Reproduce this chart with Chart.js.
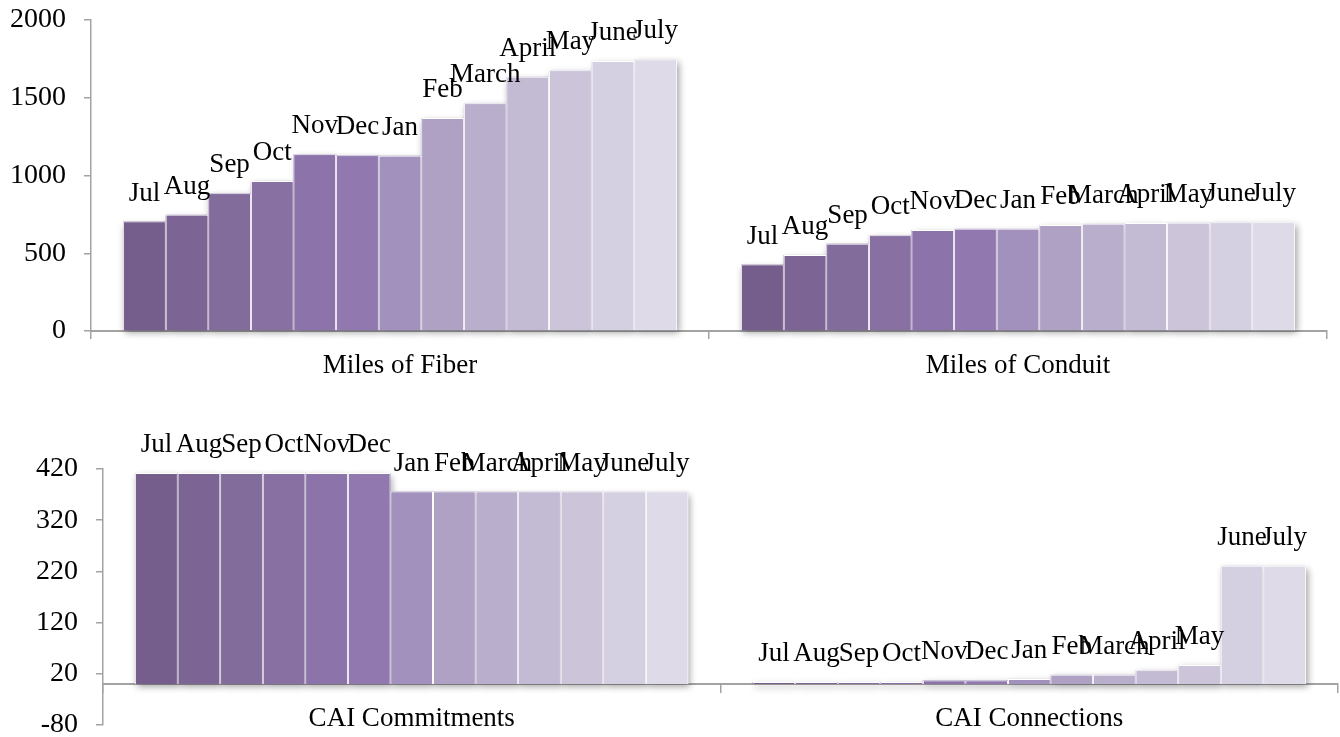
<!DOCTYPE html>
<html>
<head>
<meta charset="utf-8">
<script src="https://cdn.jsdelivr.net/npm/chart.js@4.4.0/dist/chart.umd.min.js"></script>
<style>
  html, body { margin: 0; padding: 0; background: #fff; }
  #wrap { position: relative; width: 1340px; height: 737px; overflow: hidden; }
  canvas { position: absolute; left: 0; }
  #topChart { top: 0; }
  #bottomChart { top: 380px; }
</style>
</head>
<body>
<div id="wrap">
  <canvas id="topChart" width="1340" height="380"></canvas>
  <canvas id="bottomChart" width="1340" height="357"></canvas>
</div>
<script>
// --- Data ---
const months = ['Jul', 'Aug', 'Sep', 'Oct', 'Nov', 'Dec', 'Jan', 'Feb', 'March', 'April', 'May', 'June', 'July'];
const topGroups = ['Miles of Fiber', 'Miles of Conduit'];
const bottomGroups = ['CAI Commitments', 'CAI Connections'];

const milesFiber = [704, 747, 886, 965, 1136, 1131, 1127, 1370, 1464, 1635, 1677, 1737, 1746];
const milesConduit = [427, 489, 561, 615, 649, 657, 657, 681, 689, 694, 696, 700, 700];
const caiCommitments = [412, 412, 412, 412, 412, 412, 376, 376, 376, 376, 376, 376, 376];
const caiConnections = [4, 4, 4, 4, 7, 7, 10, 18, 18, 27, 37, 231, 231];

const topTicks = [0, 500, 1000, 1500, 2000];
const bottomTicks = [-80, 20, 120, 220, 320, 420];

const monthColors = ['#765e8c', '#7c6594', '#826c9b', '#8870a3', '#8c74aa', '#9179b0', '#a191bc',
                     '#afa1c4', '#b9afcc', '#c3bad3', '#ccc5da', '#d5d0e1', '#dedae7'];

// --- Styles ---
const fontFamily = '"Liberation Serif", "Times New Roman", serif';
const axisGray = '#a3a3a3';

// soft drop shadow under the bars
const barShadow = {
    id: 'barShadow',
    beforeDatasetsDraw(chart) {
        const ctx = chart.ctx;
        ctx.save();
        ctx.shadowColor = 'rgba(0, 0, 0, 0.38)';
        ctx.shadowBlur = 7;
        ctx.shadowOffsetX = 2;
        ctx.shadowOffsetY = 3;
        chart.data.datasets.forEach((ds, i) => {
            chart.getDatasetMeta(i).data.forEach(bar => {
                const { x, y, base, width } = bar.getProps(['x', 'y', 'base', 'width'], true);
                ctx.fillStyle = ds.backgroundColor;
                ctx.fillRect(x - width / 2, Math.min(y, base), width, Math.abs(base - y));
            });
        });
        ctx.restore();
    }
};

// month name above every bar
const barLabels = {
    id: 'barLabels',
    afterDatasetsDraw(chart) {
        const ctx = chart.ctx;
        ctx.save();
        ctx.font = '27px ' + fontFamily;
        ctx.fillStyle = '#000';
        ctx.textAlign = 'center';
        ctx.textBaseline = 'alphabetic';
        chart.data.datasets.forEach((ds, i) => {
            chart.getDatasetMeta(i).data.forEach(bar => {
                ctx.fillText(ds.label, bar.x, bar.y - 21);
            });
        });
        ctx.restore();
    }
};

const buildDatasets = (a, b) => months.map((m, i) => ({
    label: m,
    data: [a[i], b[i]],
    backgroundColor: monthColors[i],
    borderColor: '#ffffff',
    borderWidth: 1,
    barPercentage: 1.0,
    categoryPercentage: 0.896
}));

const makeOptions = (cfg) => ({
    responsive: false,
    animation: false,
    layout: { padding: cfg.padding },
    plugins: { legend: { display: false }, tooltip: { enabled: false } },
    scales: {
        x: {
            position: cfg.xPosition,
            z: 1,
            grid: { offset: true, drawOnChartArea: false, tickLength: 8, color: axisGray, lineWidth: 1.5 },
            border: { color: axisGray, width: 2 },
            ticks: { font: { family: fontFamily, size: 27 }, color: '#000', padding: 11 },
            afterFit(scale) { scale.height = cfg.xHeight; }
        },
        y: {
            min: cfg.ticks[0],
            max: cfg.ticks[cfg.ticks.length - 1],
            afterBuildTicks(scale) { scale.ticks = cfg.ticks.map(v => ({ value: v })); },
            grid: { drawOnChartArea: false, tickLength: 7, color: axisGray, lineWidth: 1.5 },
            border: { color: axisGray, width: 1.5 },
            ticks: {
                font: { family: fontFamily, size: 28, lineHeight: 0.8 },
                color: '#000',
                padding: 18,
                callback: (value) => String(value)
            },
            afterFit(scale) {
                scale.width = cfg.yWidth;
                scale.paddingTop = 0;
                scale.paddingBottom = 0;
            }
        }
    }
});

new Chart(document.getElementById('topChart'), {
    type: 'bar',
    data: { labels: topGroups, datasets: buildDatasets(milesFiber, milesConduit) },
    options: makeOptions({
        padding: { top: 20, right: 13, bottom: 0, left: 0 },
        xPosition: 'bottom',
        xHeight: 49,
        yWidth: 91,
        ticks: topTicks
    }),
    plugins: [barShadow, barLabels]
});

new Chart(document.getElementById('bottomChart'), {
    type: 'bar',
    data: { labels: bottomGroups, datasets: buildDatasets(caiCommitments, caiConnections) },
    options: makeOptions({
        padding: { top: 89, right: 2, bottom: 12, left: 0 },
        xPosition: { y: 0 },
        xHeight: 0,
        yWidth: 103,
        ticks: bottomTicks
    }),
    plugins: [barShadow, barLabels]
});
</script>
</body>
</html>
